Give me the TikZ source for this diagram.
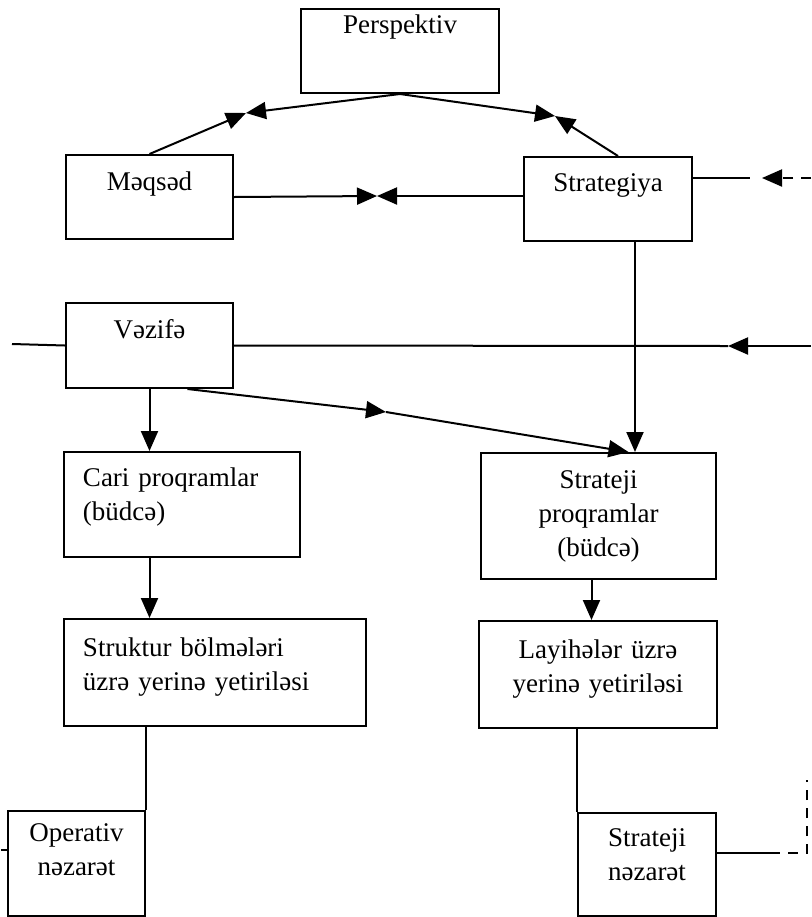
\documentclass[tikz,border=0pt]{standalone}
\usepackage{fontspec}
\setmainfont{Liberation Serif}
\usetikzlibrary{arrows.meta}

\begin{document}
\begin{tikzpicture}[
x=0.5pt,y=-0.5pt,
box/.style={rectangle,draw,line width=1pt,inner sep=0pt,align=center,
anchor=north west,font=\fontsize{13.5}{17}\selectfont},
arrow/.style={-{Triangle[length=10pt,width=8.5pt]},line width=1pt},
link/.style={line width=1pt},
gapline/.style={line width=1pt,dash pattern=on 5pt off 4pt}
]
\useasboundingbox (0,0) rectangle (811,917);
% boxes
\node[box,text width=99pt,text height=12.25pt,text depth=29.75pt] (pr) at (300,8) {Perspektiv};
\node[box,text width=83.5pt,text height=17.5pt,text depth=24.5pt] (mq) at (65,154) {Məqsəd};
\node[box,text width=84pt,text height=17pt,text depth=25pt] (st) at (523,156) {Strategiya};
\node[box,text width=83.5pt,text height=17.5pt,text depth=25pt] (vz) at (65,302) {Vəzifə};
\node[box,align=left,inner xsep=9.5pt,text width=99pt,text height=17pt,text depth=35.5pt] (cp) at (63,451) {Cari proqramlar\\(büdcə)};
\node[box,text width=117.5pt,text height=17.5pt,text depth=45.5pt] (sp) at (480,452) {Strateji\\proqramlar\\(büdcə)};
\node[box,align=left,inner xsep=9.5pt,text width=132pt,text height=18.5pt,text depth=35pt] (sb) at (63,618) {Struktur bölmələri\\üzrə yerinə yetiriləsi};
\node[box,text width=119pt,text height=18.5pt,text depth=35pt] (ly) at (478,620) {Layihələr üzrə\\yerinə yetiriləsi};
\node[box,text width=68.5pt,text height=15pt,text depth=37.5pt] (op) at (7,810) {Operativ\\nəzarət};
\node[box,text width=69pt,text height=16.5pt,text depth=35pt] (sn) at (577,812) {Strateji\\nəzarət};
% meeting points and free ends
\coordinate (pl) at (246,113);
\coordinate (pR) at (555,116);
\coordinate (bw) at (377,196);
\coordinate (inS) at (811,178);
\coordinate (tS) at (762,178);
\coordinate (gS) at (750,178);
\coordinate (inVl) at (12,344);
\coordinate (inVr) at (811,346);
\coordinate (tV) at (728,346);
\coordinate (dm) at (386,412);
\coordinate (fb1) at (770,853);
\coordinate (fb2) at (807,853);
\coordinate (fb3) at (807,780);
\coordinate (fbL) at (1,850);
% connectors
\draw[arrow] (pr.south) -- (pl); \draw[arrow] (mq.north) -- (pl);
\draw[arrow] (pr.south) -- (pR); \draw[arrow] ([xshift=5pt]st.north) -- (pR);
\draw[arrow] (mq.east) -- (bw); \draw[arrow] (st.west |- bw) -- (bw);
\draw[arrow,gapline] (inS) -- (tS); \draw[link] (st.east |- inS) -- (gS);
\draw[link] (inVl) -- (vz.west);
\draw[arrow] (inVr) -- (tV); \draw[link] (tV) -- (vz.east);
\draw[arrow] (vz.south) -- (vz.south |- cp.north);
\draw[arrow] (cp.south -| vz.south) -- (vz.south |- sb.north);
\draw[link] (sb.south -| op.north east) -- (op.north east);
\draw[arrow] ([xshift=13.5pt]st.south) -- ([xshift=13.5pt]st.south |- sp.north);
\draw[arrow] ([xshift=19pt]vz.south) -- (dm); \draw[arrow] (dm) -- ([xshift=15pt]sp.north);
\draw[arrow] ([xshift=-3.5pt]sp.south) -- ([xshift=-3.5pt]sp.south |- ly.north);
\draw[link] (ly.south -| sn.north west) -- (sn.north west);
\draw[link] (sn.east |- fb1) -- (fb1); \draw[gapline] (fb1) -- (fb2) -- (fb3);
\draw[link] (op.west |- fbL) -- (fbL);
\end{tikzpicture}
\end{document}
